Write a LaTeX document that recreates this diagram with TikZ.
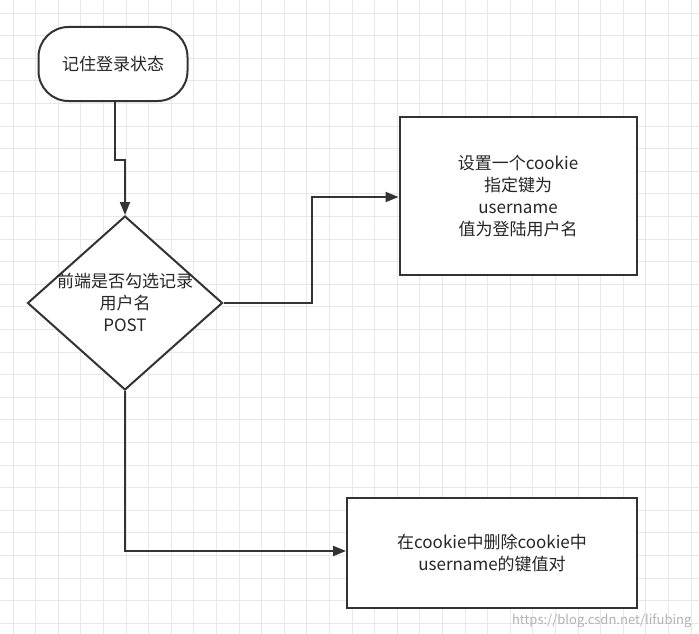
\documentclass[tikz,border=0pt]{standalone}
\usepackage{fontspec}
\setmainfont{Noto Sans CJK SC}
\usetikzlibrary{shapes.geometric,arrows.meta}
\begin{document}
\begin{tikzpicture}[x=1pt,y=-1pt,
  box/.style={draw=black!80,line width=2pt,fill=white,align=center,font=\fontsize{17}{22}\selectfont,text=black!85},
  conn/.style={draw=black!80,line width=2pt,-{Triangle[length=13pt,width=10pt]}}]
\useasboundingbox (0,0) rectangle (699,634);
\fill[white] (0,0) rectangle (699,634);
\foreach \i in {0,...,31} {\draw[black!9,line width=0.8pt] (13+22.6*\i,0) -- (13+22.6*\i,634);}
\foreach \i in {0,...,28} {\draw[black!9,line width=0.8pt] (0,13+22.6*\i) -- (699,13+22.6*\i);}
\node[box,rounded corners=30pt,minimum width=149pt,minimum height=74pt] (start) at (113,64) {记住登录状态};
\node[box,diamond,minimum width=195pt,minimum height=174pt,inner sep=0pt] (dec) at (125,303) {};
\node[align=center,font=\fontsize{17}{22}\selectfont,text=black!85] (dect) at (125,302) {前端是否勾选记录\\用户名\\POST};
\node[box,minimum width=237pt,minimum height=158pt] (b1) at (518,196) {设置一个cookie\\指定键为\\username\\值为登陆用户名};
\node[box,minimum width=290pt,minimum height=110pt] (b2) at (492,553) {在cookie中删除cookie中\\username的键值对};
\coordinate (j1) at (115,160);
\coordinate (j2) at (125,160);
\draw[conn] (start.south -| j1) -- (j1) -- (j2) -- (dec.north);
\coordinate (j3) at (312,303);
\coordinate (j4) at (312,197);
\draw[conn] (dec.east) -- (j3) -- (j4) -- (b1.west |- j4);
\coordinate (j5) at (125,551);
\draw[conn] (dec.south) -- (j5) -- (b2.west |- j5);
\node[text=black!30,font=\fontsize{13}{15}\selectfont,anchor=east] (wm) at (695,621) {https://blog.csdn.net/lifubing};
\end{tikzpicture}
\end{document}
